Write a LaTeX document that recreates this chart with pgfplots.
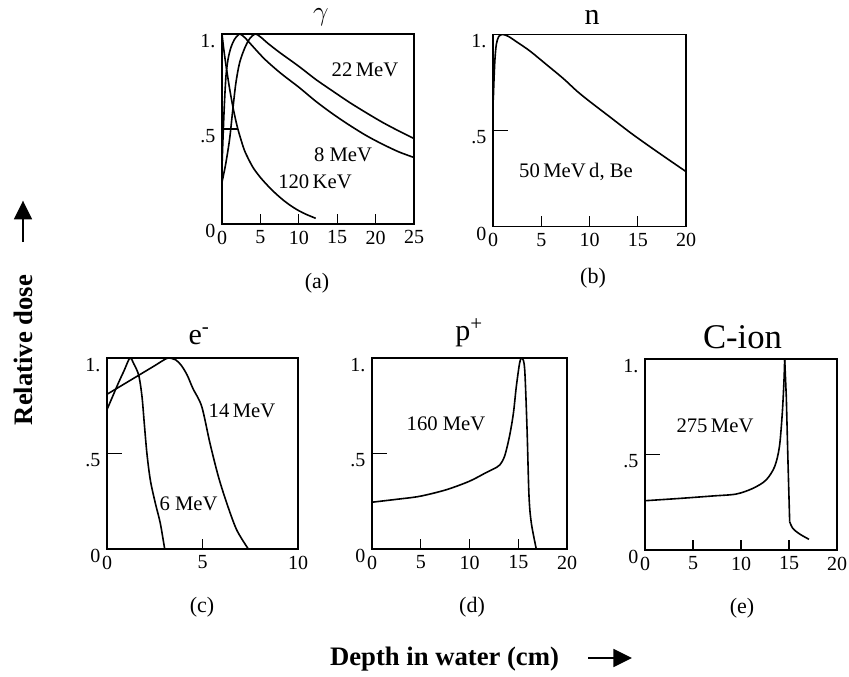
\documentclass[border=0pt]{standalone}
\usepackage{fontspec}
\setmainfont{Liberation Serif}
\usepackage{pgfplots}
\pgfplotsset{compat=1.18}
\usetikzlibrary{arrows.meta}

\pgfplotsset{
 dd/.style={
  scale only axis, anchor=south west,
  ymin=0, ymax=1, ytick={0,0.5,1}, yticklabels={0,.5,1.},
  tick align=inside, xtick pos=bottom, ytick pos=left,
  major tick length=7.5pt,
  ytick style={/pgfplots/major tick length=11pt},
  tick style={line width=0.9pt, black},
  axis line style={line width=0.9pt},
  tick label style={font=\fontsize{15pt}{15pt}\selectfont},
  yticklabel style={anchor=north east, inner ysep=0pt, xshift=-1.5pt},
  xticklabel style={yshift=-1.5pt},
  /pgf/number format/assume math mode=true,
  every axis plot/.append style={line width=1.2pt, black, no markers},
 }
}

\begin{document}
\begin{tikzpicture}
\useasboundingbox (0,0) rectangle (636.75pt,507pt);

% (a) gamma
\begin{axis}[dd, at={(166.5pt,339pt)}, width=144pt, height=142.5pt,
  xmin=0, xmax=25, xtick={0,5,10,15,20,25}]
\addplot[black, smooth, tension=0.5] coordinates {
(0,0.22)(0.5,0.32)(1.0,0.45)(1.4,0.6)(1.8,0.74)(2.3,0.85)(3.0,0.93)(3.6,0.975)(4.3,1.0)
(5.0,0.985)(6.0,0.95)(7.6,0.9)(10,0.83)(12.24,0.76)(14.4,0.70)(16.6,0.64)(18.8,0.585)
(20.9,0.535)(23,0.49)(25,0.45)};
\addplot[black, smooth, tension=0.5] coordinates {
(0,0.30)(0.1,0.42)(0.3,0.62)(0.52,0.78)(0.8,0.87)(1.17,0.93)(1.6,0.97)(2.0,0.99)(2.35,1.0)
(3.0,0.98)(3.56,0.955)(5.5,0.87)(7.6,0.795)(10,0.72)(12.24,0.645)(14.4,0.58)(16.6,0.52)
(18.8,0.465)(20.9,0.42)(23,0.38)(25,0.35)};
\addplot[black, smooth, tension=0.5] coordinates {
(0,1.0)(0.2,0.93)(0.5,0.84)(1.0,0.71)(1.5,0.60)(2.0,0.51)(2.5,0.44)(3.0,0.38)(4.0,0.30)
(5.0,0.245)(6.0,0.20)(7.0,0.16)(8.0,0.125)(9.0,0.095)(10.0,0.07)(11.0,0.05)(12.2,0.03)};
\end{axis}

% (b) neutron
\begin{axis}[dd, at={(369.75pt,337.125pt)}, width=144.75pt, height=144pt,
  xmin=0, xmax=20, xtick={0,5,10,15,20}]
\addplot[black, smooth, tension=0.5] coordinates {
(0.03,0.66)(0.1,0.76)(0.2,0.87)(0.35,0.95)(0.6,0.99)(1.0,1.0)(1.6,0.99)(2.5,0.96)
(3.8,0.915)(5.5,0.845)(7.3,0.77)(8.7,0.705)(10.0,0.652)(12.0,0.575)(14.2,0.49)
(16.0,0.425)(18.0,0.355)(20.0,0.286)};
\end{axis}

% (c) electrons
\begin{axis}[dd, at={(80.25pt,95.25pt)}, width=143.25pt, height=143.25pt,
  xmin=0, xmax=10, xtick={0,5,10}]
\addplot[black, smooth, tension=0.5] coordinates {
(0,0.73)(0.3,0.8)(0.6,0.87)(0.9,0.935)(1.2,1.0)(1.4,0.97)(1.66,0.91)(1.83,0.8)
(1.95,0.66)(2.09,0.5)(2.27,0.36)(2.53,0.24)(2.79,0.135)(3.02,0.0)};
\addplot[black, smooth, tension=0.5] coordinates {
(0,0.81)(0.5,0.84)(1.0,0.87)(1.5,0.9)(2.0,0.93)(2.5,0.96)(2.9,0.985)(3.2,1.0)(3.6,0.99)
(3.9,0.96)(4.2,0.91)(4.5,0.84)(4.96,0.746)(5.39,0.554)(5.83,0.38)(6.27,0.24)(6.79,0.1)(7.4,0)};
\end{axis}

% (d) protons
\begin{axis}[dd, at={(279pt,95.25pt)}, width=146.25pt, height=143.25pt,
  xmin=0, xmax=20, xtick={0,5,10,15,20}]
\addplot[black, smooth, tension=0.5] coordinates {
(0,0.245)(2.5,0.26)(4.9,0.276)(7.6,0.31)(10.0,0.355)(11.7,0.40)(12.5,0.42)(13.1,0.44)
(13.6,0.486)(14.1,0.59)(14.5,0.71)(14.8,0.85)(15.15,0.976)(15.4,1.0)(15.66,0.94)
(15.9,0.63)(16.1,0.28)(16.34,0.136)(16.85,0)};
\end{axis}

% (e) carbon ions
\begin{axis}[dd, at={(483.75pt,94.5pt)}, width=144pt, height=143.25pt,
  xmin=0, xmax=20, xtick={0,5,10,15,20}]
\addplot[black, smooth, tension=0.5] coordinates {
(0,0.258)(3.6,0.27)(7.08,0.283)(9.5,0.293)(11.25,0.323)(12.6,0.366)(13.5,0.436)
(14.0,0.54)(14.3,0.716)(14.48,0.89)(14.55,1.0)};
\addplot[black, sharp plot] coordinates {(14.55,1.0)(14.72,0.80)(14.9,0.45)(15.07,0.148)};
\addplot[black, smooth, tension=0.5] coordinates {
(15.07,0.148)(15.4,0.113)(16.1,0.084)(17.08,0.056)};
\end{axis}

\begin{scope}[x=0.75pt,y=0.75pt]
% titles
\node[anchor=base, font=\fontsize{22pt}{22pt}\selectfont] at (321,655.5) {$\gamma$};
\node[anchor=base, font=\fontsize{22.5pt}{22.5pt}\selectfont] at (592,651) {n};
\node[anchor=base, font=\fontsize{22.5pt}{22.5pt}\selectfont] at (199,332) {e\textsuperscript{-}};
\node[anchor=base, font=\fontsize{22.5pt}{22.5pt}\selectfont] at (469,335.5) {p\textsuperscript{+}};
\node[anchor=base, font=\fontsize{26pt}{26pt}\selectfont] at (742.5,328) {C-ion};

% panel labels
\begin{scope}[every node/.style={font=\fontsize{16.5pt}{16.5pt}\selectfont}]
\node at (317,393) {(a)};
\node at (593,397.5) {(b)};
\node at (202,69) {(c)};
\node at (472,69) {(d)};
\node at (742,68) {(e)};
\end{scope}

% curve labels
\begin{scope}[every node/.style={anchor=base, font=\fontsize{15.5pt}{15.5pt}\selectfont}]
\node at (365,599) {22\,MeV};
\node at (343,514) {8 MeV};
\node at (315,488) {120\,KeV};
\node at (576,498.7) {50\,MeV\,d, Be};
\node at (242,259) {14\,MeV};
\node at (188.5,166) {6 MeV};
\node at (446,246) {160 MeV};
\node at (715,244) {275\,MeV};
\end{scope}

% axis labels
\node[rotate=90, font=\bfseries\fontsize{20pt}{20pt}\selectfont] at (23,326) {Relative dose};
\draw[line width=1.2pt, -{Triangle[width=13.5pt,length=14pt]}] (23,434) -- (23,475.3);
\node[anchor=base, font=\bfseries\fontsize{20pt}{20pt}\selectfont] at (444.5,11) {Depth in water (cm)};
\draw[line width=1.2pt, -{Triangle[width=13.5pt,length=14pt]}] (588,18) -- (632,18);
\end{scope}
\end{tikzpicture}
\end{document}
